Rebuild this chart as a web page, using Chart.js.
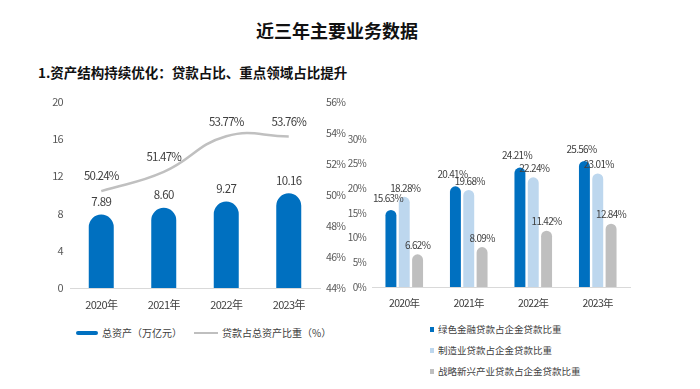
<!DOCTYPE html>
<html><head><meta charset="utf-8">
<script src="https://cdn.jsdelivr.net/npm/chart.js@4.4.1/dist/chart.umd.min.js"></script>
<style>
html,body{margin:0;padding:0;background:#fff;}
#page{position:relative;width:700px;height:389px;overflow:hidden;font-family:"Noto Sans CJK SC",sans-serif;}
.abs{position:absolute;}
#title{left:0;width:674px;top:17px;text-align:center;font-size:18px;font-weight:700;color:#111;}
#sub{left:38px;top:62px;font-size:13.5px;font-weight:700;color:#111;}
.leg{font-size:10px;color:#404040;white-space:nowrap;display:flex;align-items:center;}
.sw{display:inline-block;margin-right:4px;}
</style></head>
<body><div id="page">
<div id="title" class="abs">近三年主要业务数据</div>
<div id="sub" class="abs">1.资产结构持续优化：贷款占比、重点领域占比提升</div>
<div class="abs" style="left:20px;top:88px;width:340px;height:225px;"><canvas id="c1" width="340" height="225"></canvas></div>
<div class="abs" style="left:330px;top:120px;width:320px;height:190px;"><canvas id="c2" width="320" height="190"></canvas></div>
<div class="abs leg" style="left:76px;top:325px;"><span class="sw" style="width:22px;height:4px;background:#0070C0;border-radius:2px;"></span>总资产（万亿元）</div>
<div class="abs leg" style="left:194px;top:325px;"><span class="sw" style="width:24px;height:2px;background:#BFBFBF;"></span>贷款占总资产比重（%）</div>
<div class="abs leg" style="left:430px;top:322px;font-size:9.5px;"><span class="sw" style="width:4px;height:5px;background:#0070C0;"></span>绿色金融贷款占企金贷款比重</div>
<div class="abs leg" style="left:430px;top:343px;font-size:9.5px;"><span class="sw" style="width:4px;height:5px;background:#BDD7EE;"></span>制造业贷款占企金贷款比重</div>
<div class="abs leg" style="left:430px;top:364px;font-size:9.5px;"><span class="sw" style="width:4px;height:5px;background:#BFBFBF;"></span>战略新兴产业贷款占企金贷款比重</div>
</div>
<script>
const years = ["2020年","2021年","2022年","2023年"];
const totalAssets = [7.89, 8.60, 9.27, 10.16];
const loanShare = [50.24, 51.47, 53.77, 53.76];
const greenLoan = [15.63, 20.41, 24.21, 25.56];
const mfgLoan = [18.28, 19.68, 22.24, 23.01];
const sseLoan = [6.62, 8.09, 11.42, 12.84];
const leftTicks = [0, 4, 8, 12, 16, 20];
const rightTicks = [44, 46, 48, 50, 52, 54, 56];
const rightChartTicks = [0, 5, 10, 15, 20, 25, 30];

const FONT = '"Noto Sans CJK SC", sans-serif';
const narrowPlugin = {
  id: 'narrow',
  beforeDraw(chart) { chart.ctx.letterSpacing = '-0.7px'; }
};
const labelPlugin = {
  id: 'vlabels',
  afterDatasetsDraw(chart) {
    const ctx = chart.ctx;
    chart.data.datasets.forEach((ds, i) => {
      const meta = chart.getDatasetMeta(i);
      const o = ds.lbl;
      if (!o) return;
      ctx.save();
      ctx.font = o.size + 'px ' + FONT;
      ctx.letterSpacing = o.ls;
      ctx.fillStyle = '#404040';
      ctx.textAlign = 'center';
      ctx.textBaseline = 'middle';
      meta.data.forEach((el, j) => {
        const v = ds.data[j];
        const txt = o.pct ? v.toFixed(2) + '%' : v.toFixed(2);
        ctx.fillText(txt, el.x + (o.dx || 0), el.y - o.dy);
      });
      ctx.restore();
    });
  }
};

new Chart(document.getElementById('c1'), {
  data: {
    labels: years,
    datasets: [
      { type: 'line', data: loanShare, yAxisID: 'y1', borderColor: '#C0C0C0', borderWidth: 2.5,
        pointRadius: 0, tension: 0.45, order: 0, lbl: {size: 11.5, dy: 15, pct: true, ls: '-0.8px'} },
      { type: 'bar', data: totalAssets, yAxisID: 'y', backgroundColor: '#0070C0',
        borderRadius: {topLeft: 100, topRight: 100, bottomLeft: 0, bottomRight: 0}, borderSkipped: 'bottom',
        categoryPercentage: 1, barPercentage: 0.4, order: 1, lbl: {size: 11.5, dy: 13, ls: '-0.6px'} }
    ]
  },
  options: {
    responsive: false, animation: false,
    layout: {padding: {top: 12, bottom: 0, left: 0, right: 0}},
    plugins: {legend: {display: false}, tooltip: {enabled: false}},
    scales: {
      x: { grid: {display: false, drawTicks: false}, border: {color: '#D9D9D9'},
           ticks: {color: '#404040', font: {size: 11, family: FONT}, padding: 10},
           afterFit(s){ s.height = 25; } },
      y: { position: 'left', min: 0, max: 20, grid: {display: false, drawTicks: false}, border: {display: false},
           afterBuildTicks(s){ s.ticks = leftTicks.map(v => ({value: v})); },
           ticks: {color: '#595959', font: {size: 11, family: FONT}, padding: 7},
           afterFit(s){ s.width = 50; } },
      y1: { position: 'right', min: 44, max: 56, grid: {display: false, drawTicks: false}, border: {display: false},
           afterBuildTicks(s){ s.ticks = rightTicks.map(v => ({value: v})); },
           ticks: {color: '#595959', font: {size: 10.5, family: FONT}, padding: 6, callback: v => v + '%'},
           afterFit(s){ s.width = 40; } }
    }
  },
  plugins: [narrowPlugin, labelPlugin]
});

const rb = {topLeft: 100, topRight: 100, bottomLeft: 0, bottomRight: 0};
new Chart(document.getElementById('c2'), {
  type: 'bar',
  data: {
    labels: years,
    datasets: [
      { data: greenLoan, backgroundColor: '#0070C0', borderRadius: rb, borderSkipped: 'bottom', lbl: {size: 10, dy: 12, dx: -3, pct: true, ls: '-0.7px'} },
      { data: mfgLoan, backgroundColor: '#BDD7EE', borderRadius: rb, borderSkipped: 'bottom', lbl: {size: 10, dy: 9, dx: 1, pct: true, ls: '-0.7px'} },
      { data: sseLoan, backgroundColor: '#BFBFBF', borderRadius: rb, borderSkipped: 'bottom', lbl: {size: 10, dy: 9, pct: true, ls: '-0.7px'} }
    ]
  },
  options: {
    responsive: false, animation: false,
    datasets: {bar: {categoryPercentage: 0.62, barPercentage: 0.82}},
    layout: {padding: {top: 19, bottom: 0, left: 0, right: 20}},
    plugins: {legend: {display: false}, tooltip: {enabled: false}},
    scales: {
      x: { grid: {display: false, drawTicks: false}, border: {color: '#D9D9D9'},
           ticks: {color: '#404040', font: {size: 10.5, family: FONT}, padding: 10},
           afterFit(s){ s.height = 23; } },
      y: { min: 0, max: 30, grid: {display: false, drawTicks: false}, border: {display: false},
           afterBuildTicks(s){ s.ticks = rightChartTicks.map(v => ({value: v})); },
           ticks: {color: '#595959', font: {size: 10, family: FONT}, padding: 6, callback: v => v + '%'},
           afterFit(s){ s.width = 42; } }
    }
  },
  plugins: [narrowPlugin, labelPlugin]
});
</script>
</body></html>
